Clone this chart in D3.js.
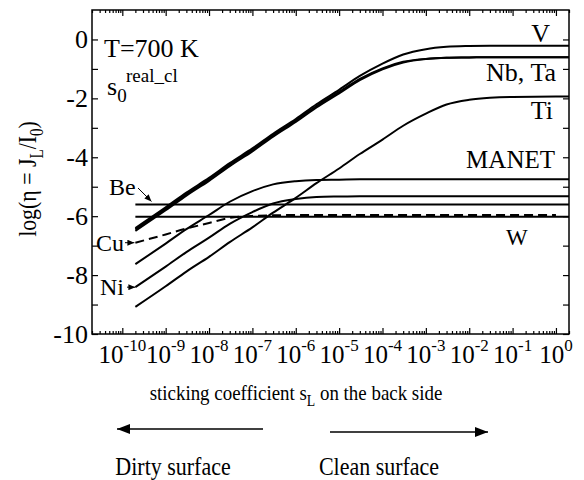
<!DOCTYPE html>
<html>
<head>
<meta charset="utf-8">
<script src="https://cdn.jsdelivr.net/npm/d3@7"></script>
<style>
body { margin: 0; background: #fff; }
text { font-family: "Liberation Serif", "Times New Roman", serif; fill: #000; white-space: pre; }
</style>
</head>
<body>
<div class="main"></div>
<script>
const WIDTH = 584;
const HEIGHT = 480;

// sticking coefficient on the back side (x values shared by every curve)
const sticking = [2e-10, 1e-9, 3e-9, 1e-8, 3e-8, 1e-7, 3e-7, 1e-6, 3e-6, 1e-5,
                  3e-5, 1e-4, 3e-4, 1e-3, 3e-3, 1e-2, 3e-2, 1e-1, 1, 2];

// log(eta)
const etaV     = [-6.40, -5.70, -5.20, -4.70, -4.20, -3.70, -3.20, -2.70, -2.20, -1.71,
                  -1.24, -0.82, -0.51, -0.33, -0.25, -0.22, -0.21, -0.21, -0.21, -0.21];
const etaNb    = [-6.45, -5.75, -5.25, -4.75, -4.25, -3.75, -3.25, -2.75, -2.26, -1.78,
                  -1.34, -0.98, -0.76, -0.66, -0.62, -0.61, -0.60, -0.60, -0.60, -0.60];
const etaTa    = [-6.50, -5.80, -5.30, -4.80, -4.30, -3.80, -3.30, -2.80, -2.31, -1.83,
                  -1.38, -1.01, -0.78, -0.66, -0.62, -0.61, -0.60, -0.60, -0.60, -0.60];
const etaTi    = [-9.08, -8.38, -7.88, -7.38, -6.88, -6.38, -5.88, -5.38, -4.88, -4.38,
                  -3.89, -3.40, -2.93, -2.52, -2.21, -2.05, -1.98, -1.95, -1.94, -1.94];
const etaMANET = [-7.63, -6.93, -6.44, -5.96, -5.51, -5.15, -4.92, -4.81, -4.77, -4.76,
                  -4.75, -4.75, -4.75, -4.75, -4.75, -4.75, -4.75, -4.75, -4.75, -4.75];
const etaNi    = [-8.41, -7.71, -7.22, -6.73, -6.26, -5.86, -5.57, -5.42, -5.35, -5.33,
                  -5.32, -5.32, -5.32, -5.32, -5.32, -5.32, -5.32, -5.32, -5.32, -5.32];
const etaCu    = [-6.90, -6.62, -6.42, -6.23, -6.06, -5.99, -5.97, -5.96, -5.96, -5.96,
                  -5.96, -5.96, -5.96, -5.96, -5.96, -5.96, -5.96, -5.96, -5.96, null];
const etaBe    = [-5.60, -5.60, -5.60, -5.60, -5.60, -5.60, -5.60, -5.60, -5.60, -5.60,
                  -5.60, -5.60, -5.60, -5.60, -5.60, -5.60, -5.60, -5.60, -5.60, -5.60];
const etaW     = [-6.02, -6.02, -6.02, -6.02, -6.02, -6.02, -6.02, -6.02, -6.02, -6.02,
                  -6.02, -6.02, -6.02, -6.02, -6.02, -6.02, -6.02, -6.02, -6.02, -6.02];

const xExponents = [-10, -9, -8, -7, -6, -5, -4, -3, -2, -1, 0];
const yTicks = [-10, -9, -8, -7, -6, -5, -4, -3, -2, -1, 0];

const plotLeft = 92, plotRight = 569, plotTop = 10, plotBottom = 334;

var svg = d3.select(".main")
    .append("svg")
        .attr("width", WIDTH)
        .attr("height", HEIGHT);

var x = d3.scaleLog().domain([2e-11, 2]).range([plotLeft, plotRight]);
var y = d3.scaleLinear().domain([-10, 1]).range([plotBottom, plotTop]);

var majors = xExponents.map(k => Math.pow(10, k));
var minors = [];
for (let k = -11; k <= 0; k++) {
    for (let m = 2; m <= 9; m++) {
        let v = m * Math.pow(10, k);
        if (v >= 2e-11 && v <= 2) minors.push(v);
    }
}

function styleAxis(g) {
    g.select(".domain").remove();
    g.selectAll(".tick line").attr("stroke", "#000").attr("stroke-width", 1.2);
}

// bottom and top ticks (pointing inward)
svg.append("g").attr("transform", `translate(0,${plotBottom})`)
    .call(d3.axisBottom(x).tickValues(majors).tickSizeInner(-6).tickSizeOuter(0).tickFormat(""))
    .call(styleAxis);
svg.append("g").attr("transform", `translate(0,${plotBottom})`)
    .call(d3.axisBottom(x).tickValues(minors).tickSizeInner(-3).tickSizeOuter(0).tickFormat(""))
    .call(styleAxis);
svg.append("g").attr("transform", `translate(0,${plotTop})`)
    .call(d3.axisTop(x).tickValues(majors).tickSizeInner(-6).tickSizeOuter(0).tickFormat(""))
    .call(styleAxis);
svg.append("g").attr("transform", `translate(0,${plotTop})`)
    .call(d3.axisTop(x).tickValues(minors).tickSizeInner(-3).tickSizeOuter(0).tickFormat(""))
    .call(styleAxis);

// left and right ticks
var yAxis = svg.append("g").attr("transform", `translate(${plotLeft},0)`)
    .call(d3.axisLeft(y).tickValues(yTicks).tickSizeInner(-6).tickSizeOuter(0).tickPadding(4)
        .tickFormat(d => d % 2 === 0 ? String(d) : ""))
    .call(styleAxis);
yAxis.selectAll(".tick text")
    .attr("font-size", 26)
    .attr("font-family", "Liberation Serif")
    .attr("fill", "#000");
svg.append("g").attr("transform", `translate(${plotRight},0)`)
    .call(d3.axisRight(y).tickValues(yTicks).tickSizeInner(-6).tickSizeOuter(0).tickFormat(""))
    .call(styleAxis);

// frame
svg.append("rect")
    .attr("x", plotLeft).attr("y", plotTop)
    .attr("width", plotRight - plotLeft).attr("height", plotBottom - plotTop)
    .attr("fill", "none").attr("stroke", "#000").attr("stroke-width", 1.5);

// x tick labels 10^k
var xl = svg.append("g").selectAll("text")
    .data(xExponents)
    .join("text")
    .attr("x", d => x(Math.pow(10, d)))
    .attr("y", 363)
    .attr("text-anchor", "middle")
    .attr("font-size", 25);
xl.append("tspan").text("10");
xl.append("tspan").attr("dy", -12).attr("font-size", 17).text(d => String(d));

// curves
var line = d3.line()
    .defined(d => d[1] !== null)
    .x(d => x(d[0]))
    .y(d => y(d[1]))
    .curve(d3.curveMonotoneX);

var series = [
    {values: etaV}, {values: etaNb}, {values: etaTa}, {values: etaTi},
    {values: etaMANET}, {values: etaNi}, {values: etaBe}, {values: etaW},
    {values: etaCu, dash: "9,5"}
];

svg.append("g").selectAll("path")
    .data(series)
    .join("path")
    .attr("d", d => line(sticking.map((s, i) => [s, d.values[i]])))
    .attr("fill", "none")
    .attr("stroke", "#000")
    .attr("stroke-width", 2)
    .attr("stroke-dasharray", d => d.dash || null);

// arrow heads
var defs = svg.append("defs");
defs.append("marker").attr("id", "bighead")
    .attr("markerUnits", "userSpaceOnUse")
    .attr("markerWidth", 14).attr("markerHeight", 12)
    .attr("refX", 13).attr("refY", 6).attr("orient", "auto")
    .append("path").attr("d", "M0,1L13,6L0,11Z").attr("fill", "#000");
defs.append("marker").attr("id", "smallhead")
    .attr("markerUnits", "userSpaceOnUse")
    .attr("markerWidth", 8).attr("markerHeight", 6)
    .attr("refX", 7).attr("refY", 3).attr("orient", "auto")
    .append("path").attr("d", "M0,0L7,3L0,6Z").attr("fill", "#000");

// annotations in the plot
svg.append("text").attr("x", 104).attr("y", 57).attr("font-size", 26).text("T=700 K");
var s0 = svg.append("text").attr("x", 107).attr("y", 95).attr("font-size", 26);
s0.append("tspan").text("s");
s0.append("tspan").attr("dy", 7).attr("font-size", 19).text("0");
svg.append("text").attr("x", 126).attr("y", 82).attr("font-size", 19).text("real_cl");

svg.append("text").attr("x", 550).attr("y", 42).attr("text-anchor", "end").attr("font-size", 26).text("V");
svg.append("text").attr("x", 556).attr("y", 81).attr("text-anchor", "end").attr("font-size", 26).text("Nb, Ta");
svg.append("text").attr("x", 553).attr("y", 119).attr("text-anchor", "end").attr("font-size", 26).text("Ti");
svg.append("text").attr("x", 555).attr("y", 168).attr("text-anchor", "end").attr("font-size", 25).text("MANET");
svg.append("text").attr("x", 506).attr("y", 245).attr("font-size", 23).text("W");

svg.append("text").attr("x", 109).attr("y", 195).attr("font-size", 24).text("Be");
svg.append("text").attr("x", 96).attr("y", 251).attr("font-size", 24).text("Cu");
svg.append("text").attr("x", 100).attr("y", 295).attr("font-size", 24).text("Ni");

var x0 = x(sticking[0]);
svg.append("line")
    .attr("x1", 138).attr("y1", 188).attr("x2", x(4.7e-10)).attr("y2", y(etaBe[0]) - 3)
    .attr("stroke", "#000").attr("stroke-width", 1).attr("marker-end", "url(#smallhead)");
svg.append("line")
    .attr("x1", 125).attr("y1", y(etaCu[0])).attr("x2", x0 - 1).attr("y2", y(etaCu[0]))
    .attr("stroke", "#000").attr("stroke-width", 1).attr("marker-end", "url(#smallhead)");
svg.append("line")
    .attr("x1", 127).attr("y1", y(etaNi[0])).attr("x2", x0).attr("y2", y(etaNi[0]))
    .attr("stroke", "#000").attr("stroke-width", 1).attr("marker-end", "url(#smallhead)");

// axis titles (the original lettering is condensed)
var yt = svg.append("text")
    .attr("transform", "translate(36,179) rotate(-90) scale(0.84,1)")
    .attr("text-anchor", "middle")
    .attr("font-size", 26);
yt.append("tspan").text("log(η = J");
yt.append("tspan").attr("dy", 7).attr("font-size", 18).text("L");
yt.append("tspan").attr("dy", -7).text("/I");
yt.append("tspan").attr("dy", 7).attr("font-size", 18).text("0");
yt.append("tspan").attr("dy", -7).text(")");

var xt = svg.append("text")
    .attr("transform", "translate(296,400) scale(0.86,1)")
    .attr("text-anchor", "middle")
    .attr("font-size", 22);
xt.append("tspan").text("sticking coefficient s");
xt.append("tspan").attr("dy", 6).attr("font-size", 16).text("L");
xt.append("tspan").attr("dy", -6).text(" on the back side");

// surface arrows
svg.append("line")
    .attr("x1", 263).attr("y1", 429).attr("x2", 117).attr("y2", 429)
    .attr("stroke", "#000").attr("stroke-width", 1.5).attr("marker-end", "url(#bighead)");
svg.append("line")
    .attr("x1", 330).attr("y1", 432).attr("x2", 488).attr("y2", 432)
    .attr("stroke", "#000").attr("stroke-width", 1.5).attr("marker-end", "url(#bighead)");

svg.append("text").attr("transform", "translate(173,475) scale(0.88,1)")
    .attr("text-anchor", "middle").attr("font-size", 25).text("Dirty surface");
svg.append("text").attr("transform", "translate(379,475) scale(0.88,1)")
    .attr("text-anchor", "middle").attr("font-size", 25).text("Clean surface");
</script>
</body>
</html>
